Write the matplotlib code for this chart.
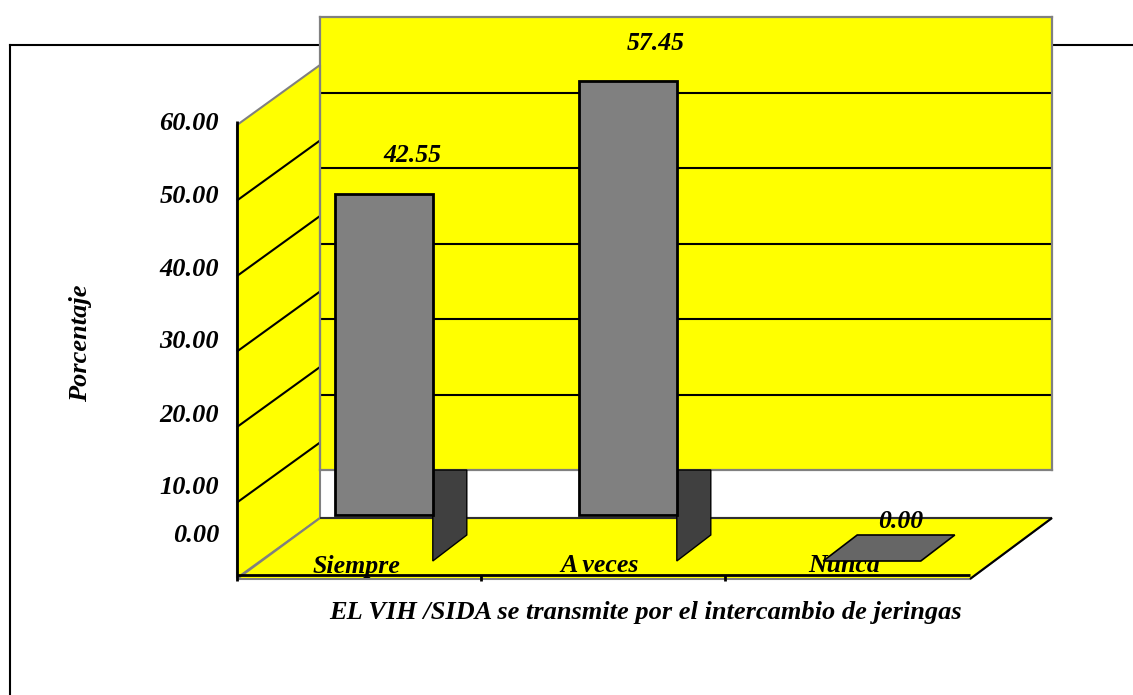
import matplotlib
matplotlib.use("Agg")
import matplotlib.pyplot as plt
from matplotlib.lines import Line2D
from matplotlib.patches import Polygon
from matplotlib.transforms import Affine2D, IdentityTransform

# Data
categories = ["Siempre", "A veces", "Nunca"]
percent = [42.55, 57.45, 0.00]
value_labels = ["42.55", "57.45", "0.00"]
axis_ticks = [0, 10, 20, 30, 40, 50, 60]
x_title = "EL VIH /SIDA se transmite por el intercambio de jeringas"
y_title = "Porcentaje"

W, H = 1133, 695
YELLOW = "#ffff00"
GRAY = "#808080"
FONT = dict(family="Liberation Serif", style="italic", weight="bold", color="black")

fig = plt.figure(figsize=(W / 100, H / 100), dpi=100, facecolor="white")
# back wall of the fake 3D box
ax = fig.add_axes([320 / W, (H - 470) / H, 732 / W, 453 / H], facecolor=YELLOW)
ax.set_xlim(0, 3)
ax.set_ylim(0, 60)
ax.set_xticks([])
ax.set_yticks(axis_ticks[1:-1])
ax.tick_params(length=0, labelleft=False)
ax.grid(True, axis="y", color="black", linewidth=1.5)
ax.set_axisbelow(True)
for s in ax.spines.values():
    s.set_color(GRAY)
    s.set_linewidth(1.6)


def P(x, v, dx=0, dy=0):
    """data point on the back wall, moved dx right / dy down in pixels"""
    px, py = ax.transData.transform((x, v))
    return px + dx, py - dy


def poly(pts, z, **kw):
    ax.add_patch(Polygon(pts, closed=True, transform=IdentityTransform(),
                         clip_on=False, zorder=z, **kw))


def seg(p0, p1, z, color="black", lw=1.5):
    ax.add_line(Line2D([p0[0], p1[0]], [p0[1], p1[1]], transform=IdentityTransform(),
                       color=color, linewidth=lw, clip_on=False, zorder=z,
                       solid_capstyle="butt"))


def lab(x, y, s, **kw):
    fig.text(x / W, (H - y) / H, s, ha="center", va="center", **FONT, **kw)


# outer chart border, hidden behind the wall
for xs, ys in [([10, 320], [45, 45]), ([1052, W], [45, 45]), ([10, 10], [45, H])]:
    fig.add_artist(Line2D([x / W for x in xs], [(H - y) / H for y in ys],
                          color="black", linewidth=1.5, zorder=-1))

# left wall and floor
poly([P(0, 0, -83, 108), P(0, 60, -83, 108), P(0, 60, 0, 48), P(0, 0, 0, 48)],
     1, facecolor=YELLOW, edgecolor=GRAY, linewidth=1.5)
for v in axis_ticks[1:-1]:
    seg(P(0, v, -83, 108), P(0, v, 0, 48), 1.2)
poly([P(0, 0, -83, 109), P(0, 0, 0, 48), P(3, 0, 0, 48), P(3, 0, -82, 109)],
     1.1, facecolor=YELLOW, edgecolor=GRAY, linewidth=1.5)
seg(P(0, 0, 0, 48), P(3, 0, 0, 48), 1.3, color="#303030")
seg(P(3, 0, 0, 48), P(3, 0, -82, 109), 1.3)

# axis lines and ticks
seg(P(0, 0, -83, 105), P(3, 0, -82, 105), 1.4, lw=2)
seg(P(0, 0, -83, 111), P(0, 60, -83, 104), 1.4, lw=2)
for c in [1, 2]:
    seg(P(c, 0, -83, 105), P(c, 0, -83, 111), 1.4, lw=2)

# bars
bar_w = 0.4
centers = [i + 0.5 for i in range(len(percent))]
label_y = [155, 44, 521.5]
front = ax.transData + Affine2D().translate(-58, -45)
for c, v, cat, vlab, ly in zip(centers, percent, categories, value_labels, label_y):
    cx = P(c, 0, -58)[0]
    # category names sit under the bars, so they go in the axes and not on the figure
    ax.text(cx - 28, H - 566, cat, transform=IdentityTransform(), ha="center", va="center",
            fontsize=18.6, zorder=1.5, clip_on=False, **FONT)
    if v > 0:
        ax.bar(c, v, bar_w, transform=front, color=GRAY, edgecolor="black",
               linewidth=2, clip_on=False, zorder=3)
        right = c + bar_w / 2
        poly([P(right, 0, -58, 0), P(right, 0, -24, 0), P(right, 0, -24, 65),
              P(right, 0, -58, 91)], 2.9, facecolor="#404040", edgecolor="black", linewidth=1)
        lab(cx + 28, ly, vlab, fontsize=18.5)
    else:
        # zero height bar: only the top face shows on the floor
        left, right = c - bar_w / 2, c + bar_w / 2
        poly([P(left, v, -58, 91), P(left, v, -24, 65), P(right, v, -24, 65),
              P(right, v, -58, 91)], 2, facecolor="#666666", edgecolor="black", linewidth=1.2)
        lab(cx + 29, ly, vlab, fontsize=18.5)

# value axis labels, spacing is uneven in the original
tick_y = [535, 488, 415, 342, 269, 196, 123]
for t, y in zip(axis_ticks, tick_y):
    fig.text(219 / W, (H - y) / H, f"{t:.2f}", ha="right", va="center", fontsize=19, **FONT)

lab(645.5, 613, x_title, fontsize=19)
lab(81, 343, y_title, fontsize=19, rotation=90)

fig.savefig("out.png", dpi=100)
